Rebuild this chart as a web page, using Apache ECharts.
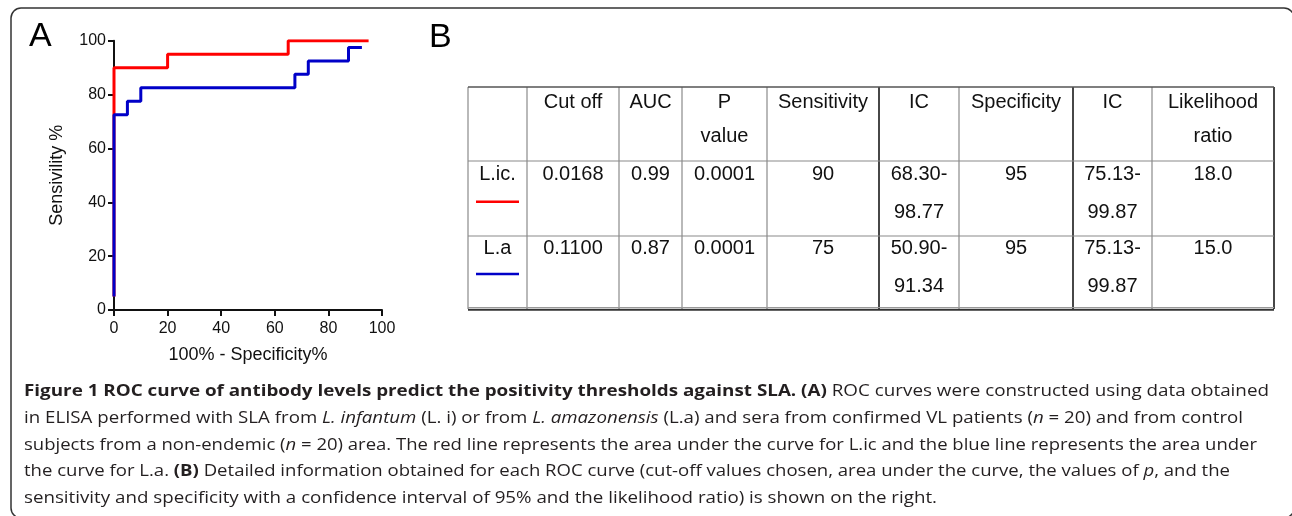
<!DOCTYPE html>
<html><head><meta charset="utf-8">
<script src="https://cdn.jsdelivr.net/npm/echarts@6/dist/echarts.min.js"></script>
<style>html,body{margin:0;padding:0;background:#fff;}#c{width:1292px;height:516px;}</style>
</head><body><div id="c"></div>
<script>
// ---------------- data ----------------
const xAxisName = '100% - Specificity%';
const yAxisName = 'Sensivility %';
const tickStep = 20;
// ROC points (100% - specificity, sensitivity), step 'end'
const redFpr  = [0, 0, 20, 65, 95];
const redSens = [5, 90, 95, 100, 100];
const blueFpr  = [0, 0, 5, 10, 67.5, 72.5, 87.5, 92.5];
const blueSens = [5, 72.5, 77.5, 82.5, 87.5, 92.5, 97.5, 97.5];

const headLine1 = ['', 'Cut off', 'AUC', 'P', 'Sensitivity', 'IC', 'Specificity', 'IC', 'Likelihood'];
const headLine2 = ['', '', '', 'value', '', '', '', '', 'ratio'];
const licLine1 = ['L.ic.', '0.0168', '0.99', '0.0001', '90', '68.30-', '95', '75.13-', '18.0'];
const licLine2 = ['', '', '', '', '', '98.77', '', '99.87', ''];
const laLine1  = ['L.a', '0.1100', '0.87', '0.0001', '75', '50.90-', '95', '75.13-', '15.0'];
const laLine2  = ['', '', '', '', '', '91.34', '', '99.87', ''];

const captionLines = [
  [['b', 'Figure 1 ROC curve of antibody levels predict the positivity thresholds against SLA. (A)'], ['n', ' ROC curves were constructed using data obtained']],
  [['n', 'in ELISA performed with SLA from '], ['i', 'L. infantum'], ['n', ' (L. i) or from '], ['i', 'L. amazonensis'], ['n', ' (L.a) and sera from confirmed VL patients ('], ['i', 'n'], ['n', ' = 20) and from control']],
  [['n', 'subjects from a non-endemic ('], ['i', 'n'], ['n', ' = 20) area. The red line represents the area under the curve for L.ic and the blue line represents the area under']],
  [['n', 'the curve for L.a. '], ['b', '(B)'], ['n', ' Detailed information obtained for each ROC curve (cut-off values chosen, area under the curve, the values of '], ['i', 'p'], ['n', ', and the']],
  [['n', 'sensitivity and specificity with a confidence interval of 95% and the likelihood ratio) is shown on the right.']]
];

// ---------------- layout / style ----------------
const RED = '#ff0000', BLUE = '#0000c8', INK = '#111111';
const tblFont = '"Liberation Sans", Arial, sans-serif';
const capFont = '"Open Sans", sans-serif';
const colEdges = [468, 527, 619, 682, 767, 879, 959, 1073, 1152, 1274];
const rowEdges = [87, 161, 236, 309];
const darkCols = [5, 7, 9];
const lineBase = [[109.3, 143.3], [181, 219.3], [255.7, 293.3]];
const capX = 24, capBase0 = 397.5, capStep = 26.6;
const capTargetW = [1245, 1219, 1233, 1206, 913];

function zip(a, b) { return a.map((v, i) => [v, b[i]]); }

const graphics = [];
graphics.push({type: 'rect', shape: {x: 11, y: 8, width: 1283, height: 510, r: 10},
  style: {fill: 'none', stroke: '#333', lineWidth: 1.5}, z: 1});
graphics.push({type: 'text', x: 29, y: 37, style: {text: 'A', fontSize: 34, fontFamily: tblFont, fill: '#000', verticalAlign: 'middle'}});
graphics.push({type: 'text', x: 429, y: 38, style: {text: 'B', fontSize: 34, fontFamily: tblFont, fill: '#000', verticalAlign: 'middle'}});

// table grid
const tblTop = rowEdges[0], tblBot = rowEdges[rowEdges.length - 1];
colEdges.forEach((cx, i) => {
  const dark = darkCols.indexOf(i) >= 0;
  graphics.push({type: 'line', shape: {x1: cx, y1: tblTop, x2: cx, y2: tblBot},
    style: {stroke: dark ? '#333' : '#8a8a8a', lineWidth: dark ? 1.8 : 1.2}});
});
graphics.push({type: 'line', shape: {x1: colEdges[0], y1: tblTop, x2: colEdges[9], y2: tblTop}, style: {stroke: '#555', lineWidth: 1.5}});
graphics.push({type: 'line', shape: {x1: colEdges[0], y1: rowEdges[1], x2: colEdges[9], y2: rowEdges[1]}, style: {stroke: '#8a8a8a', lineWidth: 1.2}});
graphics.push({type: 'line', shape: {x1: colEdges[0], y1: rowEdges[2], x2: colEdges[9], y2: rowEdges[2]}, style: {stroke: '#8a8a8a', lineWidth: 1.2}});
graphics.push({type: 'line', shape: {x1: colEdges[0], y1: tblBot - 1.5, x2: colEdges[9], y2: tblBot - 1.5}, style: {stroke: '#999', lineWidth: 1}});
graphics.push({type: 'line', shape: {x1: colEdges[0], y1: tblBot + 0.8, x2: colEdges[9], y2: tblBot + 0.8}, style: {stroke: '#333', lineWidth: 2}});

const tableRows = [[headLine1, headLine2], [licLine1, licLine2], [laLine1, laLine2]];
tableRows.forEach((rows, r) => {
  rows.forEach((line, l) => {
    line.forEach((t, c) => {
      if (!t) return;
      graphics.push({type: 'text', x: (colEdges[c] + colEdges[c + 1]) / 2, y: lineBase[r][l] - 7,
        style: {text: t, fontSize: 20, fontFamily: tblFont, fill: INK, align: 'center', verticalAlign: 'middle'}});
    });
  });
});
graphics.push({type: 'line', shape: {x1: 476, y1: 201.7, x2: 519, y2: 201.7}, style: {stroke: RED, lineWidth: 2.5}});
graphics.push({type: 'line', shape: {x1: 476, y1: 274, x2: 519, y2: 274}, style: {stroke: BLUE, lineWidth: 2.5}});

// caption
const mctx = document.createElement('canvas').getContext('2d');
function segFont(k) { return (k === 'i' ? 'italic ' : '') + (k === 'b' ? 'bold ' : '') + '16px ' + capFont; }
const richStyle = {
  n: {fontSize: 16, fontFamily: capFont, fill: '#231f20', color: '#231f20'},
  b: {fontSize: 16, fontFamily: capFont, fontWeight: 'bold', fill: '#231f20', color: '#231f20'},
  i: {fontSize: 16, fontFamily: capFont, fontStyle: 'italic', fill: '#231f20', color: '#231f20'}
};
captionLines.forEach((segs, i) => {
  let w = 0;
  segs.forEach(s => { mctx.font = segFont(s[0]); w += mctx.measureText(s[1]).width; });
  const sx = capTargetW[i] / w;
  graphics.push({type: 'text', x: capX, y: capBase0 + capStep * i - 5.6, scaleX: sx,
    style: {text: segs.map(s => '{' + s[0] + '|' + s[1] + '}').join(''), rich: richStyle,
      fontSize: 16, fontFamily: capFont, fill: '#231f20', verticalAlign: 'middle'}});
});

const axisCommon = {
  type: 'value', min: 0, max: 100, interval: tickStep,
  axisLine: {show: true, lineStyle: {color: '#111', width: 2}},
  axisTick: {show: true, length: 6, lineStyle: {color: '#111', width: 2}},
  axisLabel: {fontSize: 16, color: INK, margin: 8, fontFamily: tblFont},
  splitLine: {show: false},
  nameLocation: 'middle',
  nameTextStyle: {fontSize: 18, color: INK, fontFamily: tblFont}
};

const chart = echarts.init(document.getElementById('c'), null, {renderer: 'canvas'});
chart.setOption({
  animation: false,
  backgroundColor: '#fff',
  grid: {left: 114, top: 40.7, right: 910, bottom: 206, containLabel: false},
  xAxis: Object.assign({}, axisCommon, {name: xAxisName, nameGap: 36,
    axisLabel: Object.assign({}, axisCommon.axisLabel, {margin: 11})}),
  yAxis: Object.assign({}, axisCommon, {name: yAxisName, nameGap: 48}),
  series: [
    {type: 'line', step: 'end', data: zip(redFpr, redSens), showSymbol: false, symbol: 'none',
      lineStyle: {color: RED, width: 3}, z: 2},
    {type: 'line', step: 'end', data: zip(blueFpr, blueSens), showSymbol: false, symbol: 'none',
      lineStyle: {color: BLUE, width: 3}, z: 3}
  ],
  graphic: {elements: graphics}
});
</script></body></html>
